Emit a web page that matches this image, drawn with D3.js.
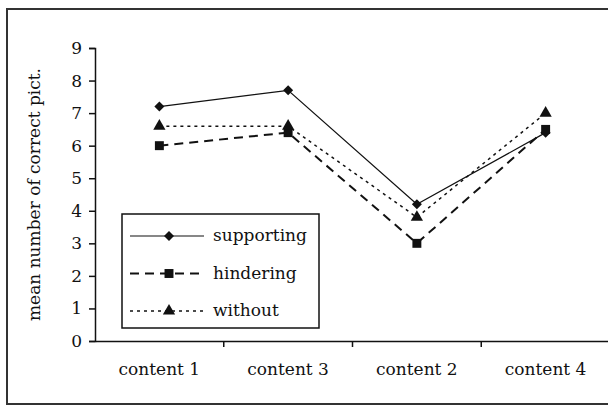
<!DOCTYPE html>
<html>
<head>
<meta charset="utf-8">
<script src="https://cdn.jsdelivr.net/npm/d3@7"></script>
<style>
  body { margin: 0; background: #fff; }
  text { font-family: "DejaVu Serif", serif; }
</style>
</head>
<body>
<div id="chart"></div>
<script>

const categories = ["content 1", "content 3", "content 2", "content 4"]
const seriesNames = ["supporting", "hindering", "without"]
const supporting = [7.2, 7.7, 4.2, 6.4]
const hindering = [6.0, 6.4, 3.0, 6.5]
const without = [6.6, 6.6, 3.8, 7.0]
const yTicks = [0, 1, 2, 3, 4, 5, 6, 7, 8, 9]

const W = 608, H = 406
const margin = {top: 48, right: -2, bottom: 65, left: 95}
const width = W - margin.left - margin.right,
    height = H - margin.top - margin.bottom

const svg = d3.select("#chart")
  .append("svg")
    .attr("width", W)
    .attr("height", H)

// outer frame
svg.append("rect")
  .attr("x", 7).attr("y", 9)
  .attr("width", 640).attr("height", 395)
  .attr("fill", "none")
  .attr("stroke", "#333")
  .attr("stroke-width", 2)

const g = svg.append("g")
  .attr("transform", `translate(${margin.left},${margin.top})`)

const x = d3.scaleBand()
  .domain(categories)
  .range([0, width])

const y = d3.scaleLinear()
  .domain([0, 9])
  .range([height, 0])

// y axis
const yAxis = g.append("g")
  .call(d3.axisLeft(y).tickValues(yTicks).tickSize(6).tickPadding(7))
yAxis.selectAll("text").style("font-size", "17px").attr("fill", "#111")
yAxis.select(".domain").attr("stroke", "#111").attr("stroke-width", 1.5)
yAxis.selectAll("line").attr("stroke", "#111").attr("stroke-width", 1.5)

// x axis, ticks sit on band boundaries
const xAxis = g.append("g")
  .attr("transform", `translate(0,${height})`)
  .call(d3.axisBottom(x).tickSize(0).tickPadding(22))
xAxis.selectAll("text").style("font-size", "17px").attr("fill", "#111")
xAxis.select(".domain").attr("stroke", "#111").attr("stroke-width", 1.5)
xAxis.selectAll(".bound")
  .data(categories.slice(1))
  .join("line")
    .attr("class", "bound")
    .attr("x1", d => x(d)).attr("x2", d => x(d))
    .attr("y1", 0).attr("y2", 6)
    .attr("stroke", "#111").attr("stroke-width", 1.5)

// y title
svg.append("text")
  .attr("transform", `translate(40,${margin.top + height / 2}) rotate(-90)`)
  .attr("text-anchor", "middle")
  .style("font-size", "17px")
  .attr("fill", "#111")
  .text("mean number of correct pict.")

const styles = {
  supporting: {dash: null, width: 1.2, symbol: d3.symbolSquare, size: 50, rot: 45},
  hindering: {dash: "9,6", width: 2, symbol: d3.symbolSquare, size: 80, rot: 0},
  without: {dash: "3,4", width: 1.5, symbol: d3.symbolTriangle, size: 65, rot: 0}
}
const seriesData = {supporting: supporting, hindering: hindering, without: without}

const line = d3.line()
  .x((d, i) => x(categories[i]) + x.bandwidth() / 2)
  .y(d => y(d))

seriesNames.forEach(name => {
  const s = styles[name]
  g.append("path")
    .datum(seriesData[name])
    .attr("d", line)
    .attr("fill", "none")
    .attr("stroke", "#111")
    .attr("stroke-width", s.width)
    .attr("stroke-dasharray", s.dash)

  g.selectAll(".m-" + name)
    .data(seriesData[name])
    .join("path")
      .attr("class", "m-" + name)
      .attr("transform", (d, i) => `translate(${x(categories[i]) + x.bandwidth() / 2},${y(d)}) rotate(${s.rot})`)
      .attr("d", d3.symbol().type(s.symbol).size(s.size))
      .attr("fill", "#111")
})

// legend
const legend = svg.append("g").attr("transform", "translate(122,214)")
legend.append("rect")
  .attr("width", 197).attr("height", 114)
  .attr("fill", "#fff")
  .attr("stroke", "#111")
  .attr("stroke-width", 1.5)

const items = legend.selectAll(".legends")
  .data(seriesNames)
  .join("g")
    .attr("class", "legends")
    .attr("transform", (d, i) => `translate(0,${22 + i * 37.5})`)

items.append("line")
  .attr("x1", 8).attr("x2", 82)
  .attr("stroke", "#111")
  .attr("stroke-width", d => styles[d].width)
  .attr("stroke-dasharray", d => styles[d].dash)

items.append("path")
  .attr("transform", d => `translate(47,0) rotate(${styles[d].rot})`)
  .attr("d", d => d3.symbol().type(styles[d].symbol).size(styles[d].size)())
  .attr("fill", "#111")

items.append("text")
  .attr("x", 91)
  .attr("dy", ".32em")
  .style("font-size", "17px")
  .attr("fill", "#111")
  .text(d => d)

</script>
</body>
</html>
